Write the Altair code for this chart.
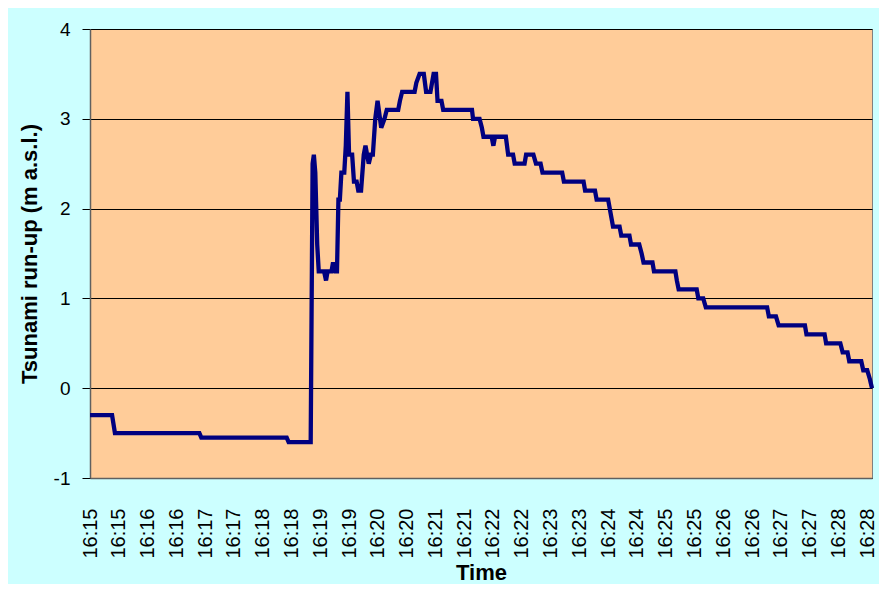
import altair as alt
import pandas as pd

# seconds after 16:15:00
seconds = [0, 23, 26, 114, 116, 205, 207, 230, 232, 233.3, 234.8, 235.8, 236.8, 238.4,
           244, 246, 247.6, 251.7, 253.3, 255.8, 257.4, 258.9, 260.4, 262, 265, 266.6,
           268.3, 270, 273.2, 275.1, 277.9, 279.6, 282.5, 285.3, 287.1, 290.5, 292.7,
           294.8, 297.3, 299.7, 303.5, 306.9, 309.3, 321.2, 323, 325.3, 338.3, 340.1,
           343.5, 347.9, 350.3, 354.8, 358.1, 360.6, 362.2, 366.3, 368.1, 398.1, 399.2,
           406, 408.4, 410.1, 418.6, 420.4, 422.1, 433.4, 435.8, 440.9, 442.6, 452.9,
           454.5, 462.1, 464.8, 469.6, 471.6, 492.1, 493.9, 514.4, 516, 526.3, 528, 540,
           543.4, 545.1, 551.9, 553.7, 562.2, 563.9, 572.4, 574.9, 576.9, 586.2, 587.8,
           610.1, 611.6, 613.5, 632.3, 634, 639.1, 641.8, 705.7, 707.5, 714.9, 717.7,
           745.1, 746.7, 765.6, 767.2, 782, 784.4, 789.5, 791.3, 803.8, 805.9, 810,
           812.8, 815]

runup = [-0.3, -0.3, -0.5, -0.5, -0.55, -0.55, -0.6, -0.6, 2.5, 2.6, 2.4, 2.0, 1.6, 1.3,
         1.3, 1.2, 1.3, 1.3, 1.4, 1.3, 1.3, 2.1, 2.1, 2.4, 2.4, 2.7,
         3.3, 2.6, 2.6, 2.3, 2.3, 2.2, 2.2, 2.6, 2.7, 2.5, 2.6,
         2.6, 3.0, 3.2, 2.9, 3.0, 3.1, 3.1, 3.2, 3.3, 3.3, 3.4,
         3.5, 3.5, 3.3, 3.3, 3.5, 3.5, 3.2, 3.2, 3.1, 3.1, 3.0,
         3.0, 2.9, 2.8, 2.8, 2.7, 2.8, 2.8, 2.6, 2.6, 2.5, 2.5,
         2.6, 2.6, 2.5, 2.5, 2.4, 2.4, 2.3, 2.3, 2.2, 2.2, 2.1, 2.1,
         1.9, 1.8, 1.8, 1.7, 1.7, 1.6, 1.6, 1.5, 1.4, 1.4, 1.3,
         1.3, 1.2, 1.1, 1.1, 1.0, 1.0, 0.9, 0.9, 0.8, 0.8, 0.7,
         0.7, 0.6, 0.6, 0.5, 0.5, 0.4, 0.4, 0.3, 0.3, 0.2, 0.2,
         0.1, 0.0]

tick_seconds = list(range(0, 811, 30))
y_ticks = [-1, 0, 1, 2, 3, 4]

df = pd.DataFrame({"t": seconds, "v": runup, "order": range(len(seconds))})

FONT = "Liberation Sans"

chart = alt.Chart(df).mark_line(color="#000080", strokeWidth=4.3).encode(
    x=alt.X("t:Q", title="Time",
            scale=alt.Scale(domain=[0, 815], nice=False, zero=False),
            axis=alt.Axis(values=tick_seconds, labelAngle=270, grid=False, ticks=False,
                          labelExpr="'16:' + (15 + floor(datum.value / 60))",
                          labelFlush=False, labelOverlap=False, labelBound=False,
                          labelPadding=30, labelFontSize=20, labelFont=FONT, labelColor="black",
                          titleFont=FONT, titleFontSize=22, titleFontWeight="bold",
                          titleColor="black", titlePadding=4,
                          domainColor="#606060", domainWidth=1.5)),
    y=alt.Y("v:Q", title="Tsunami run-up (m a.s.l.)",
            scale=alt.Scale(domain=[-1, 4], nice=False, zero=False),
            axis=alt.Axis(values=y_ticks, grid=True, gridColor="black", gridWidth=1,
                          tickColor="black", tickSize=8, labelPadding=12,
                          labelExpr="datum.value < 0 ? '-' + abs(datum.value) : '' + datum.value",
                          labelFontSize=19, labelFont=FONT, labelColor="black",
                          titleFont=FONT, titleFontSize=22, titleFontWeight="bold",
                          titleColor="black", titlePadding=12,
                          domainColor="#606060", domainWidth=1.5)),
    order="order:Q",
).properties(
    width=782, height=449,
    autosize=alt.AutoSizeParams(type="none"),
    padding={"left": 82, "top": 21, "right": 7, "bottom": 106},
    background="#CCFFFF",
).configure_view(fill="#FFCC99", stroke="#808080", strokeWidth=1)

chart.save("out.html", embed_options={"renderer": "svg", "actions": False})
